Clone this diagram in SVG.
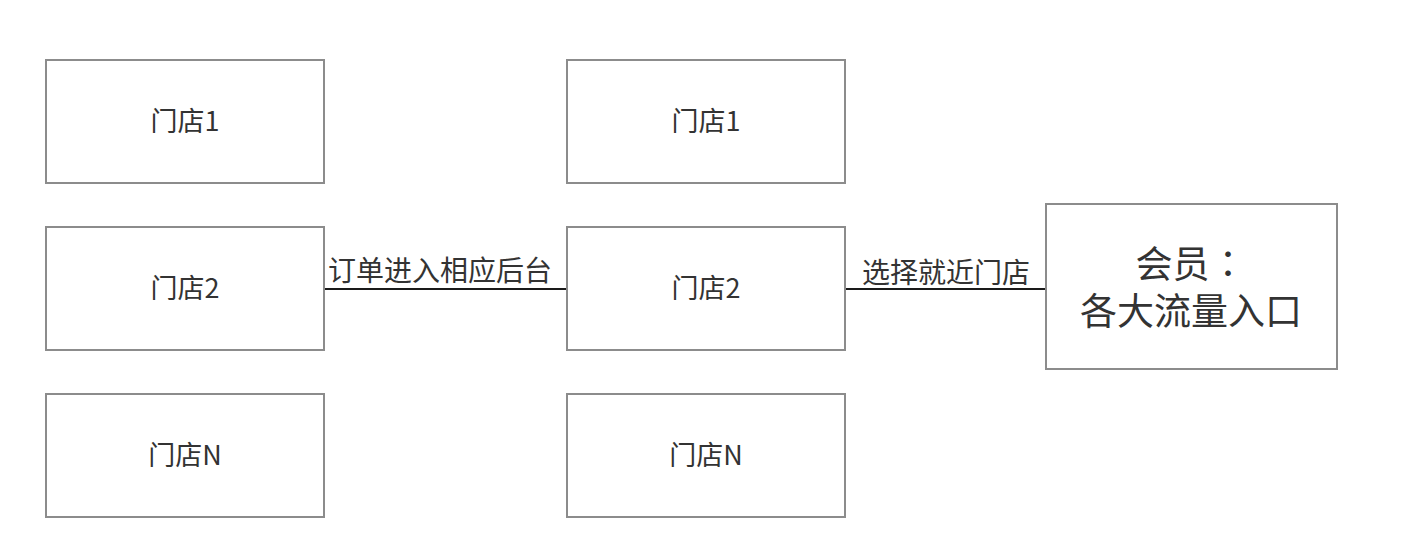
<svg xmlns="http://www.w3.org/2000/svg" width="1406" height="546" viewBox="0 0 1406 546">
<style>
.box{fill:#ffffff;stroke:#8c8c8c;stroke-width:2}
.t{font-family:"Noto Sans CJK SC","Noto Sans",sans-serif;font-size:27px;fill:#333333;text-anchor:middle}
.lbl{font-size:28px}
.big{font-size:37px}
.edge{stroke:#1a1a1a;stroke-width:2;fill:none}
</style>
<rect width="1406" height="546" fill="#ffffff"/>
<g id="connectors">
<line class="edge" x1="324" y1="289" x2="567" y2="289"/>
<line class="edge" x1="845" y1="289" x2="1046" y2="289"/>
<text class="t lbl" x="440" y="281">订单进入相应后台</text>
<text class="t lbl" x="946" y="283">选择就近门店</text>
</g>
<g id="l1"><rect class="box" x="46" y="60" width="278" height="123"/><text class="t" x="185" y="131">门店1</text></g>
<g id="l2"><rect class="box" x="46" y="227" width="278" height="123"/><text class="t" x="185" y="298">门店2</text></g>
<g id="l3"><rect class="box" x="46" y="394" width="278" height="123"/><text class="t" x="185" y="465">门店N</text></g>
<g id="m1"><rect class="box" x="567" y="60" width="278" height="123"/><text class="t" x="706" y="131">门店1</text></g>
<g id="m2"><rect class="box" x="567" y="227" width="278" height="123"/><text class="t" x="706" y="298">门店2</text></g>
<g id="m3"><rect class="box" x="567" y="394" width="278" height="123"/><text class="t" x="706" y="465">门店N</text></g>
<g id="member"><rect class="box" x="1046" y="204" width="291" height="165"/>
<text class="t big"><tspan x="1191" y="278">会员<tspan font-family="'Noto Sans CJK TC',sans-serif">：</tspan></tspan><tspan x="1191" y="325">各大流量入口</tspan></text></g>
</svg>
